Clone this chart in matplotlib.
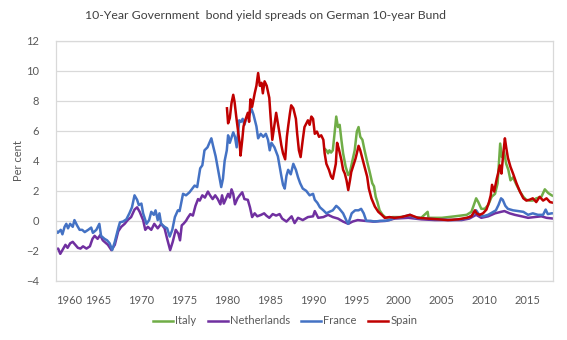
import matplotlib
matplotlib.use("Agg")
import matplotlib.pyplot as plt

plt.rcParams['font.family'] = ['Lato', 'DejaVu Sans']

# values (year, spread in %)
italy = [(1991.35, 4.8), (1991.55, 4.7), (1991.75, 4.5), (1991.9, 4.7), (1992.1, 4.55), (1992.3, 4.7),
         (1992.5, 5.8), (1992.7, 6.95), (1992.9, 6.25), (1993.1, 6.4), (1993.3, 5.4), (1993.5, 4.5),
         (1993.8, 3.6), (1994.1, 3.05), (1994.3, 3.25), (1994.6, 4.05), (1994.85, 4.7), (1995.1, 5.95),
         (1995.3, 6.25), (1995.5, 5.6), (1995.75, 5.4), (1996.0, 4.7), (1996.3, 3.95), (1996.6, 3.25),
         (1996.9, 2.5), (1997.1, 2.3), (1997.3, 1.6), (1997.5, 1.25), (1997.75, 0.7), (1998.1, 0.4),
         (1998.5, 0.2), (1999.3, 0.25), (2000.1, 0.25), (2001.1, 0.3), (2002.6, 0.2), (2003.35, 0.6),
         (2003.45, 0.2), (2005.0, 0.2), (2006.5, 0.3), (2007.9, 0.4), (2008.45, 0.6), (2008.85, 1.25),
         (2009.0, 1.5), (2009.25, 1.25), (2009.6, 0.8), (2010.0, 0.8), (2010.4, 1.05), (2010.8, 1.6),
         (2011.2, 1.8), (2011.5, 2.5), (2011.65, 3.8), (2011.8, 5.15), (2012.0, 4.25), (2012.25, 4.6),
         (2012.5, 3.8), (2012.75, 3.4), (2013.0, 2.7), (2013.3, 2.9), (2013.7, 2.4), (2014.1, 1.95),
         (2014.5, 1.6), (2014.85, 1.4), (2015.25, 1.35), (2015.6, 1.35), (2016.0, 1.5), (2016.6, 1.6),
         (2017.0, 2.1), (2017.4, 1.85), (2017.8, 1.7), (2018.0, 1.65)]

netherlands = [(1960.0, -1.9), (1960.3, -1.85), (1960.55, -2.2), (1960.85, -1.9), (1961.15, -1.6),
               (1961.4, -1.8), (1961.7, -1.5), (1962.0, -1.4), (1962.3, -1.6), (1962.6, -1.8),
               (1962.9, -1.85), (1963.2, -1.7), (1963.6, -1.85), (1964.0, -1.7), (1964.3, -1.2),
               (1964.55, -1.0), (1964.9, -1.2), (1965.2, -0.95), (1965.5, -1.3), (1965.8, -1.45),
               (1966.1, -1.6), (1966.5, -1.95), (1966.9, -1.6), (1967.3, -0.7), (1967.65, -0.4),
               (1968.05, -0.2), (1968.4, 0.05), (1968.8, 0.25), (1969.2, 0.75), (1969.5, 0.9),
               (1969.8, 0.6), (1970.2, 0.05), (1970.45, -0.6), (1970.75, -0.4), (1971.15, -0.6),
               (1971.5, -0.2), (1971.9, -0.5), (1972.3, -0.2), (1972.7, -0.5), (1973.0, -1.2),
               (1973.35, -1.95), (1973.65, -1.4), (1974.0, -0.6), (1974.3, -0.85), (1974.5, -1.3),
               (1974.7, -0.3), (1974.9, -0.2), (1975.2, 0.0), (1975.4, 0.2), (1975.7, 0.45),
               (1976.0, 0.35), (1976.3, 1.0), (1976.6, 1.45), (1976.8, 1.35), (1977.1, 1.7),
               (1977.4, 1.55), (1977.75, 1.95), (1978.0, 1.7), (1978.3, 1.45), (1978.6, 1.7),
               (1978.9, 1.45), (1979.2, 1.1), (1979.4, 1.7), (1979.6, 1.15), (1980.1, 1.8),
               (1980.3, 1.55), (1980.5, 2.1), (1980.7, 1.8), (1980.9, 1.1), (1981.2, 1.5),
               (1981.45, 1.7), (1981.75, 1.9), (1982.0, 1.45), (1982.4, 1.4), (1982.65, 0.9),
               (1982.9, 0.25), (1983.2, 0.5), (1983.5, 0.3), (1983.95, 0.4), (1984.3, 0.5),
               (1984.55, 0.35), (1984.9, 0.2), (1985.3, 0.45), (1985.7, 0.35), (1986.1, 0.45),
               (1986.4, 0.15), (1986.9, -0.05), (1987.5, 0.3), (1987.85, -0.15), (1988.25, 0.2),
               (1988.8, 0.05), (1989.4, 0.25), (1990.0, 0.3), (1990.2, 0.65), (1990.6, 0.2),
               (1991.2, 0.25), (1991.75, 0.4), (1992.3, 0.25), (1992.9, 0.15), (1993.5, -0.05),
               (1994.1, -0.2), (1994.6, -0.05), (1995.2, 0.05), (1996.0, 0.0), (1997.0, -0.05),
               (1998.5, 0.0), (1999.5, 0.15), (2001.1, 0.2), (2002.6, 0.1), (2004.2, 0.05),
               (2005.8, 0.05), (2007.3, 0.05), (2008.2, 0.15), (2009.0, 0.4), (2009.6, 0.2),
               (2010.4, 0.3), (2011.2, 0.5), (2011.9, 0.6), (2012.3, 0.65), (2012.9, 0.5),
               (2013.5, 0.4), (2014.3, 0.3), (2015.05, 0.2), (2015.8, 0.25), (2016.6, 0.3),
               (2017.2, 0.2), (2018.0, 0.15)]

france = [(1960.0, -0.6), (1960.25, -0.8), (1960.6, -0.6), (1960.8, -0.9), (1961.05, -0.4), (1961.25, -0.2),
          (1961.45, -0.5), (1961.7, -0.2), (1962.0, -0.4), (1962.2, 0.05), (1962.5, -0.3), (1962.8, -0.6),
          (1963.1, -0.6), (1963.4, -0.75), (1963.8, -0.6), (1964.15, -0.45), (1964.35, -0.8), (1964.75, -0.6),
          (1965.1, -0.2), (1965.3, -1.0), (1965.7, -1.2), (1966.0, -1.3), (1966.3, -1.5), (1966.6, -1.95),
          (1966.9, -1.4), (1967.3, -0.5), (1967.5, -0.1), (1967.85, -0.05), (1968.25, 0.1), (1968.6, 0.5),
          (1968.9, 0.9), (1969.2, 1.7), (1969.5, 1.4), (1969.7, 1.05), (1970.0, 1.15), (1970.2, 0.5),
          (1970.6, -0.2), (1970.9, 0.05), (1971.15, 0.6), (1971.45, 0.4), (1971.65, 0.7), (1971.9, 0.05),
          (1972.1, 0.5), (1972.3, -0.2), (1972.7, -0.4), (1973.0, -0.5), (1973.3, -1.05), (1973.6, -0.6),
          (1973.9, 0.25), (1974.25, 0.7), (1974.45, 0.65), (1974.85, 1.8), (1975.2, 1.7), (1975.6, 1.9),
          (1976.2, 2.35), (1976.5, 2.25), (1976.85, 3.5), (1977.1, 3.7), (1977.35, 4.7), (1977.7, 4.9),
          (1978.15, 5.5), (1978.35, 5.0), (1978.65, 4.3), (1978.9, 3.5), (1979.3, 2.25), (1979.5, 2.8),
          (1979.7, 4.0), (1979.95, 4.7), (1980.1, 5.7), (1980.3, 5.2), (1980.7, 5.9), (1980.9, 5.6),
          (1981.1, 4.9), (1981.4, 6.7), (1981.6, 6.6), (1981.8, 6.8), (1982.0, 6.4), (1982.2, 6.8),
          (1982.6, 7.1), (1982.8, 7.5), (1983.05, 7.1), (1983.4, 6.3), (1983.6, 5.5), (1983.9, 5.8),
          (1984.2, 5.6), (1984.5, 5.8), (1984.75, 5.4), (1984.95, 4.7), (1985.15, 5.2), (1985.5, 4.9),
          (1985.9, 4.3), (1986.3, 3.0), (1986.5, 2.4), (1986.7, 2.15), (1986.9, 3.0), (1987.1, 3.4),
          (1987.4, 3.1), (1987.7, 3.8), (1988.0, 3.4), (1988.25, 2.9), (1988.5, 2.5), (1988.8, 2.15),
          (1989.2, 2.0), (1989.6, 1.7), (1990.0, 1.8), (1990.2, 1.4), (1990.5, 1.2), (1990.8, 0.9),
          (1991.2, 0.7), (1991.55, 0.5), (1991.9, 0.6), (1992.3, 0.7), (1992.7, 1.0), (1993.0, 0.85),
          (1993.5, 0.5), (1993.9, 0.0), (1994.1, -0.2), (1994.5, 0.5), (1994.9, 0.7), (1995.3, 0.7),
          (1995.6, 0.8), (1995.9, 0.5), (1996.2, 0.0), (1996.7, 0.0), (1997.2, -0.05), (1997.8, 0.0),
          (1998.4, 0.0), (1998.9, 0.05), (1999.5, 0.2), (2000.1, 0.2), (2000.7, 0.3), (2001.3, 0.4),
          (2001.9, 0.2), (2003.0, 0.15), (2004.6, 0.1), (2006.1, 0.05), (2007.3, 0.1), (2008.05, 0.2),
          (2008.6, 0.4), (2009.0, 0.7), (2009.3, 0.45), (2009.8, 0.3), (2010.4, 0.4), (2011.0, 0.6),
          (2011.3, 0.7), (2011.6, 1.05), (2011.9, 1.5), (2012.1, 1.4), (2012.4, 1.0), (2012.7, 0.8),
          (2013.3, 0.7), (2013.9, 0.65), (2014.5, 0.6), (2015.05, 0.4), (2015.6, 0.5), (2016.2, 0.4),
          (2016.8, 0.4), (2017.1, 0.75), (2017.35, 0.45), (2017.8, 0.5), (2018.0, 0.5)]

spain = [(1979.97, 7.5), (1980.1, 6.5), (1980.3, 6.85), (1980.5, 7.85), (1980.7, 8.4), (1980.85, 7.95),
         (1981.05, 6.95), (1981.25, 6.05), (1981.45, 5.15), (1981.55, 4.35), (1981.75, 5.4), (1981.9, 6.3),
         (1982.1, 6.7), (1982.4, 7.2), (1982.55, 6.6), (1982.7, 8.1), (1982.9, 7.6), (1983.2, 8.5),
         (1983.4, 9.0), (1983.6, 9.85), (1983.8, 9.0), (1984.0, 9.2), (1984.15, 8.5), (1984.35, 9.3),
         (1984.6, 9.0), (1984.9, 8.2), (1985.05, 6.95), (1985.25, 5.4), (1985.5, 6.4), (1985.7, 7.2),
         (1985.9, 6.5), (1986.1, 5.8), (1986.3, 5.05), (1986.5, 4.5), (1986.75, 4.1), (1986.95, 5.6),
         (1987.1, 6.3), (1987.3, 7.15), (1987.45, 7.7), (1987.7, 7.5), (1988.0, 6.8), (1988.15, 5.8),
         (1988.35, 4.7), (1988.55, 4.25), (1988.8, 5.4), (1989.0, 6.25), (1989.4, 6.7), (1989.6, 6.4),
         (1989.8, 6.95), (1990.0, 6.8), (1990.2, 5.8), (1990.45, 5.95), (1990.7, 5.6), (1990.95, 5.7),
         (1991.2, 5.4), (1991.35, 4.5), (1991.55, 3.8), (1991.85, 3.4), (1992.1, 2.95), (1992.3, 2.8),
         (1992.65, 3.8), (1992.8, 5.2), (1993.0, 4.8), (1993.3, 4.05), (1993.5, 3.4), (1993.7, 3.15),
         (1993.9, 2.7), (1994.1, 2.05), (1994.3, 2.7), (1994.45, 3.25), (1994.7, 3.7), (1994.95, 4.15),
         (1995.1, 4.5), (1995.3, 5.0), (1995.5, 4.7), (1995.75, 4.15), (1996.0, 3.6), (1996.3, 2.95),
         (1996.5, 2.15), (1996.8, 1.5), (1997.2, 0.95), (1997.6, 0.6), (1998.0, 0.4), (1998.35, 0.2),
         (1998.9, 0.25), (1999.5, 0.2), (2000.3, 0.25), (2001.3, 0.4), (2002.2, 0.2), (2003.4, 0.15),
         (2004.6, 0.1), (2005.7, 0.05), (2006.9, 0.1), (2007.9, 0.2), (2008.45, 0.3), (2008.85, 0.7),
         (2009.05, 0.5), (2009.4, 0.4), (2009.8, 0.5), (2010.2, 0.75), (2010.5, 1.25), (2010.7, 1.7),
         (2010.85, 2.4), (2011.1, 1.95), (2011.4, 2.8), (2011.55, 3.15), (2011.75, 3.7), (2011.95, 3.15),
         (2012.15, 4.4), (2012.35, 5.5), (2012.5, 4.9), (2012.7, 4.2), (2013.0, 3.6), (2013.3, 3.15),
         (2013.7, 2.5), (2014.1, 1.95), (2014.5, 1.5), (2014.85, 1.35), (2015.2, 1.4), (2015.6, 1.5),
         (2016.0, 1.25), (2016.4, 1.6), (2016.8, 1.35), (2017.2, 1.5), (2017.6, 1.25), (2018.0, 1.2)]

names = ['Italy', 'Netherlands', 'France', 'Spain']
colors = ['#70AD47', '#7030A0', '#4472C4', '#C00000']
year_ticks = list(range(1960, 2020, 5))
y_ticks = list(range(-4, 13, 2))

fig = plt.figure(figsize=(5.67, 3.4), dpi=100)
ax = fig.add_axes([0.098, 0.174, 0.878, 0.706])

for name, data, c in zip(names, [italy, netherlands, france, spain], colors):
    xs, ys = zip(*data)
    ax.plot(xs, ys, color=c, lw=1.8, label=name, solid_joinstyle='round')

ax.set_xlim(1960, 2018)
ax.set_ylim(-4, 12)
ax.set_xticks(year_ticks)
ax.set_yticks(y_ticks)
ax.tick_params(length=0, labelsize=8, labelcolor='#595959')
ax.tick_params(axis='y', pad=12)
ax.tick_params(axis='x', pad=10)
ax.get_xticklabels()[0].set_ha('left')
ax.grid(axis='y', color='#D9D9D9', lw=0.9)
ax.set_axisbelow(True)
for s in ax.spines.values():
    s.set_color('#D9D9D9')
    s.set_linewidth(0.9)

ax.set_ylabel('Per cent', fontsize=8, color='#595959', labelpad=1.5)
fig.text(0.469, 0.955, '10-Year Government  bond yield spreads on German 10-year Bund',
         ha='center', va='center', fontsize=8.8, color='#404040')

ax.legend(loc='center', bbox_to_anchor=(0.503, 0.056), bbox_transform=fig.transFigure,
          ncol=4, frameon=False, fontsize=8, handlelength=1.8, handletextpad=0.2,
          columnspacing=1.0, labelcolor='#595959')

fig.savefig('out.png', dpi=100)
